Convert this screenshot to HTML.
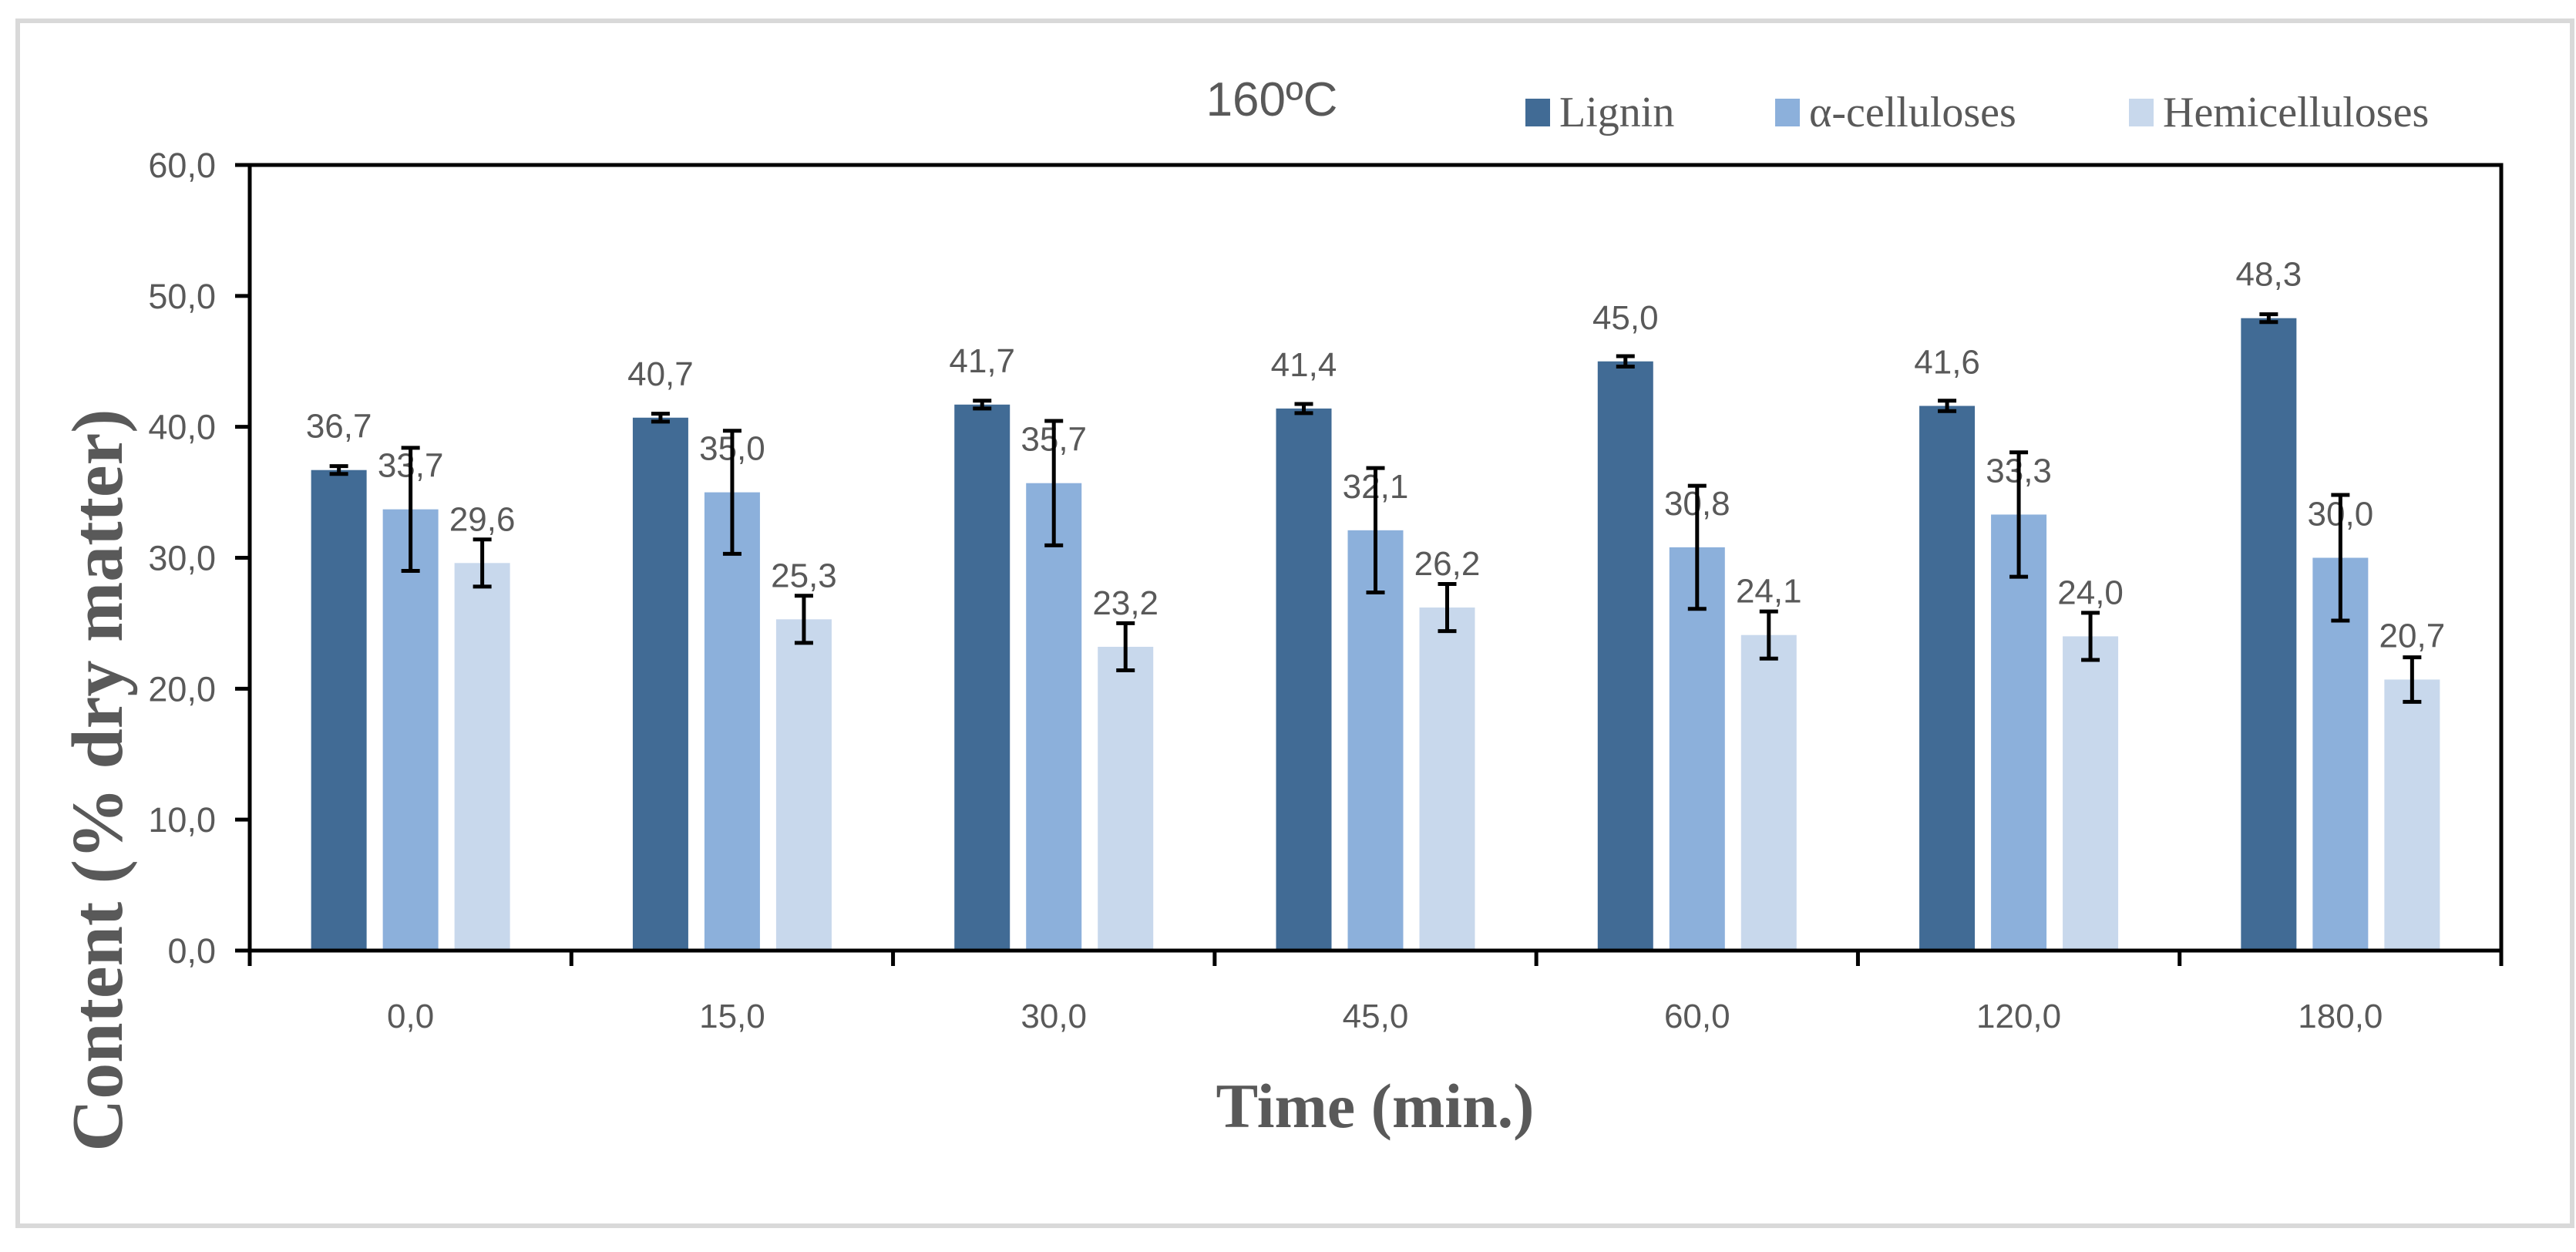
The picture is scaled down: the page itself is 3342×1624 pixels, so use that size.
<!DOCTYPE html>
<html><head><meta charset="utf-8"><style>
html,body{margin:0;padding:0;background:#fff;}
svg{display:block;}
</style></head><body>
<svg id="chart" width="3342" height="1624" viewBox="0 0 3342 1624" xmlns="http://www.w3.org/2000/svg">
<rect x="23" y="27" width="3314" height="1563" fill="#fff" stroke="#d9d9d9" stroke-width="6"/>
<text x="1650" y="150" text-anchor="middle" font-family="Liberation Sans, sans-serif" font-size="62" fill="#595959">160ºC</text>
<g id="legend"></g>
<g id="grid"></g>
<g id="bars"></g>
<g id="axes"></g>
<text x="1784" y="1462" text-anchor="middle" font-family="Liberation Serif, serif" font-weight="bold" font-size="82" fill="#595959">Time (min.)</text>
<text transform="translate(158,1012) rotate(-90)" text-anchor="middle" font-family="Liberation Serif, serif" font-weight="bold" font-size="94" fill="#595959">Content (% dry matter)</text>
</svg>
<script>
const categories = ["0,0","15,0","30,0","45,0","60,0","120,0","180,0"];
const lignin = [36.7,40.7,41.7,41.4,45.0,41.6,48.3];
const cellulose = [33.7,35.0,35.7,32.1,30.8,33.3,30.0];
const hemicellulose = [29.6,25.3,23.2,26.2,24.1,24.0,20.7];
const ligninErr = [0.3,0.3,0.3,0.35,0.4,0.4,0.3];
const celluloseErr = [4.7,4.7,4.75,4.75,4.7,4.75,4.8];
const hemiErr = [1.8,1.8,1.8,1.8,1.8,1.8,1.7];
const yTicks = [0,10,20,30,40,50,60];
const seriesNames = ["Lignin","α-celluloses","Hemicelluloses"];

const NS="http://www.w3.org/2000/svg";
const L=324,R=3245,T=214,B=1233,yMax=60;
const colors=["#416b95","#8cb0db","#c8d8ec"];
const y=v=>B-(v/yMax)*(B-T);
const catW=(R-L)/categories.length;
const x=i=>L+catW*(i+0.5);
function mk(tag,attrs,parent){const e=document.createElementNS(NS,tag);for(const k in attrs)e.setAttribute(k,attrs[k]);parent.appendChild(e);return e;}
const axes=document.getElementById('axes'),bars=document.getElementById('bars'),legend=document.getElementById('legend');
const txtGray="#595959";
yTicks.forEach(t=>{
  const ln=mk('line',{x1:305,x2:L,y1:y(t),y2:y(t),stroke:'#000','stroke-width':5},axes);
  
  
  const tx=mk('text',{x:280,y:y(t)+16,'text-anchor':'end','font-family':'Liberation Sans, sans-serif','font-size':45,fill:txtGray},axes);
  tx.textContent=t.toFixed(1).replace('.',',');
  
  
});
const fr=mk('rect',{x:L,y:T,width:R-L,height:B-T,fill:'none',stroke:'#000','stroke-width':5},axes);


for(let i=0;i<=categories.length;i++){
  const xx=L+catW*i;
  const t=mk('line',{x1:xx,x2:xx,y1:B,y2:B+20,stroke:'#000','stroke-width':5},axes);
  
  
}
categories.forEach((c,i)=>{
  const tx=mk('text',{x:x(i),y:1333,'text-anchor':'middle','font-family':'Liberation Sans, sans-serif','font-size':44,fill:txtGray},axes);
  tx.textContent=c;
  
  
});
const series=[lignin,cellulose,hemicellulose];
const errs=[ligninErr,celluloseErr,hemiErr];
const bw=72,step=93;
series.forEach((s,si)=>{
  s.forEach((v,i)=>{
    const cx=x(i)+(si-1)*step;
    const r=mk('rect',{x:cx-bw/2,y:y(v),width:bw,height:B-y(v),fill:colors[si]},bars);
    
    
    const lb=mk('text',{x:cx,y:y(v)-42,'text-anchor':'middle','font-family':'Liberation Sans, sans-serif','font-size':44,fill:txtGray},bars);
    lb.textContent=v.toFixed(1).replace('.',',');
    
    
  });
});
series.forEach((s,si)=>{
  s.forEach((v,i)=>{
    const cx=x(i)+(si-1)*step, e=errs[si][i];
    const g=mk('g',{stroke:'#000','stroke-width':5},bars);
    
    
    mk('line',{x1:cx,x2:cx,y1:y(v+e),y2:y(v-e)},g);
    mk('line',{x1:cx-12,x2:cx+12,y1:y(v+e),y2:y(v+e)},g);
    mk('line',{x1:cx-12,x2:cx+12,y1:y(v-e),y2:y(v-e)},g);
  });
});
const lx=[1979,2303,2762];
seriesNames.forEach((n,i)=>{
  const sw=mk('rect',{x:lx[i],y:128,width:32,height:36,fill:colors[i]},legend);
  
  
  const t=mk('text',{x:lx[i]+44,y:164,'font-family':'Liberation Serif, serif','font-size':56,fill:txtGray},legend);
  t.textContent=n;
  
  
});
</script>
</body></html>
